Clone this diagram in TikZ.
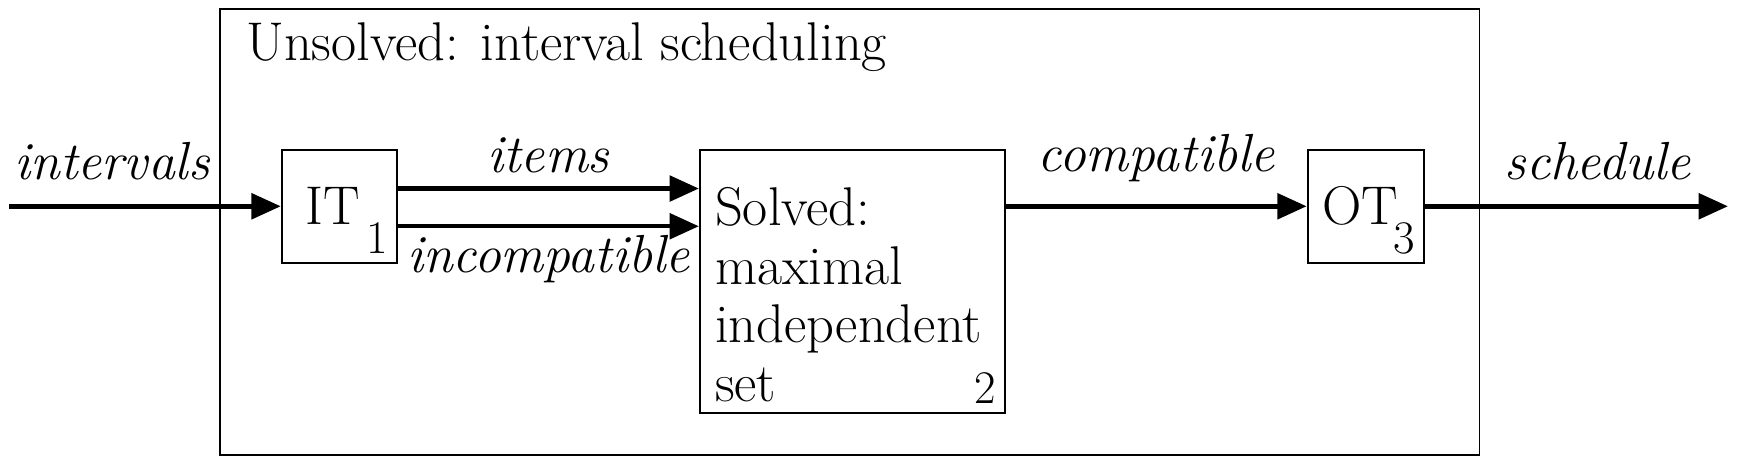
\documentclass[tikz,border=0pt]{standalone}
\usepackage{tikz}
\usetikzlibrary{arrows.meta, positioning}

\begin{document}
\begin{tikzpicture}[
            > = {Triangle[length=15pt, width=13pt]},
            auto,
            line width = 2.3pt,
            font = \fontsize{28}{30}\selectfont
        ]

        \tikzstyle{block}=[
            draw = black,
            line width = 1pt,
            fill = white,
            inner sep = 0pt
        ]
        \tikzstyle{flow}=[
            font = \fontsize{27.5}{30}\selectfont\itshape
        ]
        \tikzstyle{num}=[
            anchor = south east,
            inner sep = 4pt,
            font = \fontsize{24}{26}\selectfont
        ]

        \useasboundingbox (0,0) rectangle (31.36,8.37);

        \node[block, minimum width=22.72cm, minimum height=8.04cm] (unsolved) at (15.32,4.19) {};
        \node[anchor=base west, inner sep=0pt] (title) at (4.40,7.27) {Unsolved: interval scheduling};

		\node[block, minimum width=2.08cm, minimum height=2.04cm] (it) at (6.12,4.65) {};
        \node (itname) at ([xshift=-0.12cm]it.center) {IT};
        \node[block, minimum width=5.5cm, minimum height=4.74cm] (solved) at (15.37,3.30) {};
        \node[text width=4.95cm, align=left, inner sep=0pt] (solvedtext) at ([yshift=-0.24cm]solved.center) {Solved:\\maximal\\independent\\set};
        \node[block, minimum width=2.1cm, minimum height=2.04cm] (ot) at (24.63,4.65) {};
        \node (otname) at ([xshift=-0.1cm]ot.center) {OT};

        \node[num] (n1) at (it.south east) {1};
        \node[num] (n2) at (solved.south east) {2};
        \node[num] (n3) at (ot.south east) {3};

        \coordinate (in) at (0.16,4.65);
        \coordinate (out) at (31.16,4.65);

        \draw[->] (in) -- node[flow, pos=0.38, yshift=0.32cm] {intervals} (it);
        \draw[->] ([yshift=0.32cm]it.east) -- node[flow, yshift=0.12cm] {items} ([yshift=0.32cm]it.east -| solved.west);
        \draw[->] ([yshift=-0.36cm]it.east) -- node[flow, swap] {incompatible} ([yshift=-0.36cm]it.east -| solved.west);
        \draw[->] (solved.east |- it) -- node[flow, yshift=0.28cm] {compatible} (ot);
        \draw[->] (ot) -- node[flow, pos=0.57, yshift=0.32cm] {schedule} (out);

    \end{tikzpicture}
\end{document}
